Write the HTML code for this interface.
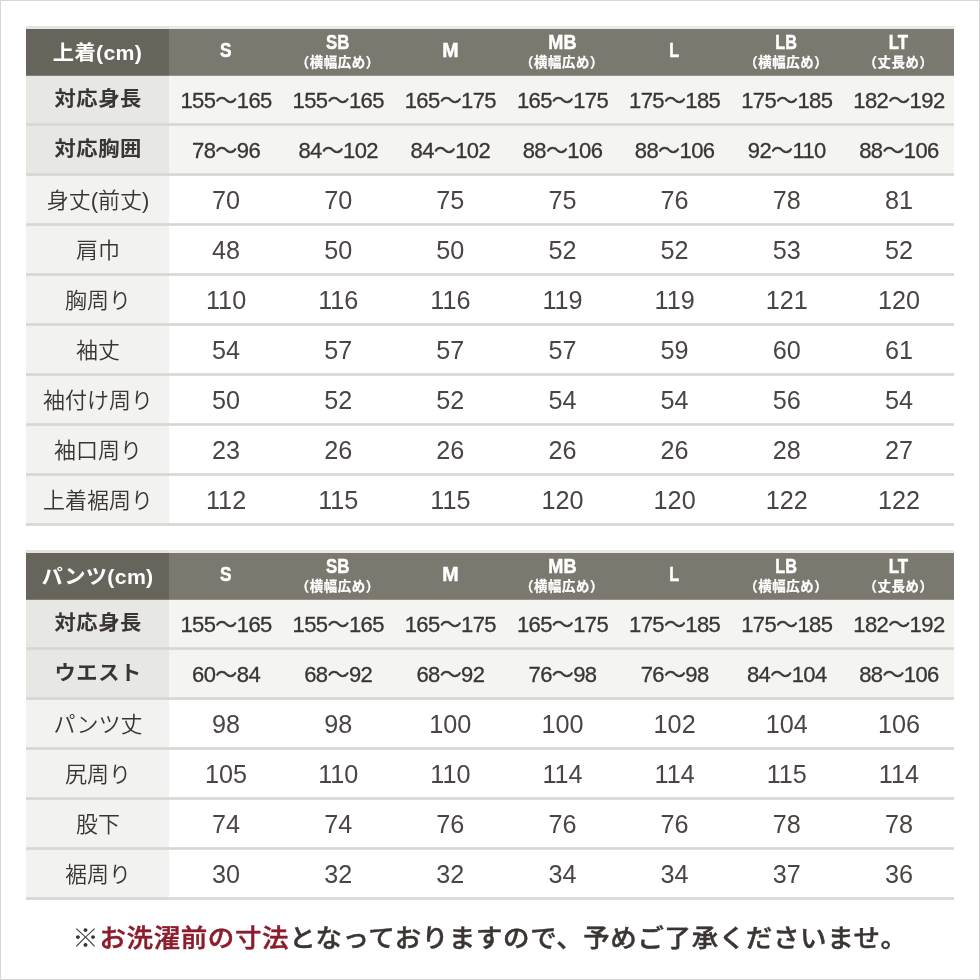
<!DOCTYPE html>
<html lang="ja">
<head>
<meta charset="utf-8">
<title>サイズ表</title>
<meta name="viewport" content="width=980">
<style>
html,body{margin:0;padding:0;background:#fff;}
body{width:980px;height:980px;overflow:hidden;position:relative;
  font-family:"Liberation Sans","Noto Sans CJK JP",sans-serif;color:#3a3533;}
.page{position:absolute;left:0;top:0;width:980px;height:980px;background:#fff;}
.page::after{content:"";position:absolute;left:0;top:0;right:0;bottom:0;
  border:1px solid #d6d6d4;pointer-events:none;}
.tbl{position:absolute;left:26px;width:928px;margin:0;padding:0;display:block;border:0;border-collapse:separate;border-spacing:0;}
thead,tbody{display:block;margin:0;padding:0;border:0;}
th,td{padding:0;margin:0;border:0;font-weight:400;text-align:center;vertical-align:baseline;}
.hrow,.row{display:grid;grid-template-columns:143px repeat(7,1fr);position:relative;}
.hrow{height:50px;}
.hc{display:flex;flex-direction:column;align-items:center;justify-content:center;
  color:#fff;font-weight:700;position:relative;box-sizing:border-box;border-top:3px solid #e3e3df;background-clip:padding-box;}
.h1{background:linear-gradient(to bottom,#67645c 0,#67645c 46px,#817e77 46px,#817e77 47px);}
.h2{background:linear-gradient(to bottom,#7b786f 0,#7b786f 46px,#93918a 46px,#93918a 47px);border-top-color:#e9e9e5;}
.ttl{font-size:21.3px;line-height:1;position:relative;top:1px;left:0px;display:inline-block;transform:scaleY(.95);white-space:nowrap;letter-spacing:.3px;}
.sz{font-size:19.8px;line-height:1;position:relative;top:-1px;left:.5px;display:inline-block;transform:translateY(-.6px) scaleX(.85);-webkit-text-stroke:.5px #fff;}
.sub{font-size:13.4px;line-height:1;margin-top:2px;white-space:nowrap;position:relative;top:-1px;left:.5px;display:inline-block;letter-spacing:.6px;-webkit-text-stroke:.25px #fff;}
.sz.one{font-size:20.3px;top:-2px;left:.5px;transform:translateY(0) scaleX(.85);}
.sz.sz-M{transform:translateY(0) scaleX(.965);left:1px;}
.sz.sz-MB{transform:translateY(-.6px) scaleX(.915);}
.sz.sz-L,.sz.sz-LB{transform:translateY(-.6px) scaleX(.82);}
.sz.sz-L{transform:translateY(0) scaleX(.8);}
.row{height:50px;}
.row::after{content:"";position:absolute;left:0;right:0;top:47px;height:3px;
  background:linear-gradient(to bottom,rgba(214,214,211,.8) 0,rgba(214,214,211,.8) 1px,#d6d6d3 1px,#d6d6d3 2px,rgba(214,214,211,.8) 2px,rgba(214,214,211,.8) 3px);}
.c{display:flex;align-items:center;justify-content:center;white-space:nowrap;box-sizing:border-box;padding-bottom:3px;line-height:1;}
.c span{position:relative;}
.lab>span{display:inline-block;}
.row.b .lab{background:#e7e7e3;font-weight:700;font-size:21.3px;}
.row.b .val{background:#f4f4f1;font-size:22px;}
.row.r .lab{background:#f2f2f0;font-size:22px;font-weight:350;}
.row.r .val{background:#fff;font-size:25.2px;color:#4a4543;}
.row.b .lab>span{top:0px;left:.7px;letter-spacing:.6px;transform:scaleY(.95);}
.row.b .val>span{top:1.3px;left:1px;letter-spacing:-.6px;-webkit-text-stroke:.3px #3a3533;}
.row.r .lab>span{top:1px;left:.5px;}
.row.r .val>span{top:1px;left:1px;}
.note{position:absolute;left:0;width:980px;top:921px;margin:0;text-align:center;
  font-weight:500;font-size:26.5px;line-height:36px;white-space:nowrap;letter-spacing:.6px;-webkit-text-stroke:.45px;transform:translateY(-.3px) scaleY(.955);}
.note .k{font-weight:400;-webkit-text-stroke:0;}
.red{color:#8c1c2c;}

</style>
</head>
<body>
<main class="page">
<table class="tbl t-top" style="top:26px">
<thead>
<tr class="hrow">
<th class="hc h1" scope="col"><span class="ttl">上着(cm)</span></th>
<th class="hc h2" scope="col"><span class="sz one sz-S">S</span></th>
<th class="hc h2 two" scope="col"><span class="sz sz-SB">SB</span><span class="sub">（横幅広め）</span></th>
<th class="hc h2" scope="col"><span class="sz one sz-M">M</span></th>
<th class="hc h2 two" scope="col"><span class="sz sz-MB">MB</span><span class="sub">（横幅広め）</span></th>
<th class="hc h2" scope="col"><span class="sz one sz-L">L</span></th>
<th class="hc h2 two" scope="col"><span class="sz sz-LB">LB</span><span class="sub">（横幅広め）</span></th>
<th class="hc h2 two" scope="col"><span class="sz sz-LT">LT</span><span class="sub">（丈長め）</span></th>
</tr>
</thead>
<tbody>
<tr class="row b">
<th class="c lab" scope="row"><span>対応身長</span></th>
<td class="c val"><span>155～165</span></td>
<td class="c val"><span>155～165</span></td>
<td class="c val"><span>165～175</span></td>
<td class="c val"><span>165～175</span></td>
<td class="c val"><span>175～185</span></td>
<td class="c val"><span>175～185</span></td>
<td class="c val"><span>182～192</span></td>
</tr>
<tr class="row b">
<th class="c lab" scope="row"><span>対応胸囲</span></th>
<td class="c val"><span>78～96</span></td>
<td class="c val"><span>84～102</span></td>
<td class="c val"><span>84～102</span></td>
<td class="c val"><span>88～106</span></td>
<td class="c val"><span>88～106</span></td>
<td class="c val"><span>92～110</span></td>
<td class="c val"><span>88～106</span></td>
</tr>
<tr class="row r">
<th class="c lab" scope="row"><span>身丈(前丈)</span></th>
<td class="c val"><span>70</span></td>
<td class="c val"><span>70</span></td>
<td class="c val"><span>75</span></td>
<td class="c val"><span>75</span></td>
<td class="c val"><span>76</span></td>
<td class="c val"><span>78</span></td>
<td class="c val"><span>81</span></td>
</tr>
<tr class="row r">
<th class="c lab" scope="row"><span>肩巾</span></th>
<td class="c val"><span>48</span></td>
<td class="c val"><span>50</span></td>
<td class="c val"><span>50</span></td>
<td class="c val"><span>52</span></td>
<td class="c val"><span>52</span></td>
<td class="c val"><span>53</span></td>
<td class="c val"><span>52</span></td>
</tr>
<tr class="row r">
<th class="c lab" scope="row"><span>胸周り</span></th>
<td class="c val"><span>110</span></td>
<td class="c val"><span>116</span></td>
<td class="c val"><span>116</span></td>
<td class="c val"><span>119</span></td>
<td class="c val"><span>119</span></td>
<td class="c val"><span>121</span></td>
<td class="c val"><span>120</span></td>
</tr>
<tr class="row r">
<th class="c lab" scope="row"><span>袖丈</span></th>
<td class="c val"><span>54</span></td>
<td class="c val"><span>57</span></td>
<td class="c val"><span>57</span></td>
<td class="c val"><span>57</span></td>
<td class="c val"><span>59</span></td>
<td class="c val"><span>60</span></td>
<td class="c val"><span>61</span></td>
</tr>
<tr class="row r">
<th class="c lab" scope="row"><span>袖付け周り</span></th>
<td class="c val"><span>50</span></td>
<td class="c val"><span>52</span></td>
<td class="c val"><span>52</span></td>
<td class="c val"><span>54</span></td>
<td class="c val"><span>54</span></td>
<td class="c val"><span>56</span></td>
<td class="c val"><span>54</span></td>
</tr>
<tr class="row r">
<th class="c lab" scope="row"><span>袖口周り</span></th>
<td class="c val"><span>23</span></td>
<td class="c val"><span>26</span></td>
<td class="c val"><span>26</span></td>
<td class="c val"><span>26</span></td>
<td class="c val"><span>26</span></td>
<td class="c val"><span>28</span></td>
<td class="c val"><span>27</span></td>
</tr>
<tr class="row r">
<th class="c lab" scope="row"><span>上着裾周り</span></th>
<td class="c val"><span>112</span></td>
<td class="c val"><span>115</span></td>
<td class="c val"><span>115</span></td>
<td class="c val"><span>120</span></td>
<td class="c val"><span>120</span></td>
<td class="c val"><span>122</span></td>
<td class="c val"><span>122</span></td>
</tr>
</tbody>
</table>
<table class="tbl t-bot" style="top:550px">
<thead>
<tr class="hrow">
<th class="hc h1" scope="col"><span class="ttl">パンツ(cm)</span></th>
<th class="hc h2" scope="col"><span class="sz one sz-S">S</span></th>
<th class="hc h2 two" scope="col"><span class="sz sz-SB">SB</span><span class="sub">（横幅広め）</span></th>
<th class="hc h2" scope="col"><span class="sz one sz-M">M</span></th>
<th class="hc h2 two" scope="col"><span class="sz sz-MB">MB</span><span class="sub">（横幅広め）</span></th>
<th class="hc h2" scope="col"><span class="sz one sz-L">L</span></th>
<th class="hc h2 two" scope="col"><span class="sz sz-LB">LB</span><span class="sub">（横幅広め）</span></th>
<th class="hc h2 two" scope="col"><span class="sz sz-LT">LT</span><span class="sub">（丈長め）</span></th>
</tr>
</thead>
<tbody>
<tr class="row b">
<th class="c lab" scope="row"><span>対応身長</span></th>
<td class="c val"><span>155～165</span></td>
<td class="c val"><span>155～165</span></td>
<td class="c val"><span>165～175</span></td>
<td class="c val"><span>165～175</span></td>
<td class="c val"><span>175～185</span></td>
<td class="c val"><span>175～185</span></td>
<td class="c val"><span>182～192</span></td>
</tr>
<tr class="row b">
<th class="c lab" scope="row"><span>ウエスト</span></th>
<td class="c val"><span>60～84</span></td>
<td class="c val"><span>68～92</span></td>
<td class="c val"><span>68～92</span></td>
<td class="c val"><span>76～98</span></td>
<td class="c val"><span>76～98</span></td>
<td class="c val"><span>84～104</span></td>
<td class="c val"><span>88～106</span></td>
</tr>
<tr class="row r">
<th class="c lab" scope="row"><span>パンツ丈</span></th>
<td class="c val"><span>98</span></td>
<td class="c val"><span>98</span></td>
<td class="c val"><span>100</span></td>
<td class="c val"><span>100</span></td>
<td class="c val"><span>102</span></td>
<td class="c val"><span>104</span></td>
<td class="c val"><span>106</span></td>
</tr>
<tr class="row r">
<th class="c lab" scope="row"><span>尻周り</span></th>
<td class="c val"><span>105</span></td>
<td class="c val"><span>110</span></td>
<td class="c val"><span>110</span></td>
<td class="c val"><span>114</span></td>
<td class="c val"><span>114</span></td>
<td class="c val"><span>115</span></td>
<td class="c val"><span>114</span></td>
</tr>
<tr class="row r">
<th class="c lab" scope="row"><span>股下</span></th>
<td class="c val"><span>74</span></td>
<td class="c val"><span>74</span></td>
<td class="c val"><span>76</span></td>
<td class="c val"><span>76</span></td>
<td class="c val"><span>76</span></td>
<td class="c val"><span>78</span></td>
<td class="c val"><span>78</span></td>
</tr>
<tr class="row r">
<th class="c lab" scope="row"><span>裾周り</span></th>
<td class="c val"><span>30</span></td>
<td class="c val"><span>32</span></td>
<td class="c val"><span>32</span></td>
<td class="c val"><span>34</span></td>
<td class="c val"><span>34</span></td>
<td class="c val"><span>37</span></td>
<td class="c val"><span>36</span></td>
</tr>
</tbody>
</table>
<p class="note"><span class="k">※</span><span class="red">お洗濯前の寸法</span>となっておりますので、予めご了承くださいませ。</p>
</main>
</body>
</html>
